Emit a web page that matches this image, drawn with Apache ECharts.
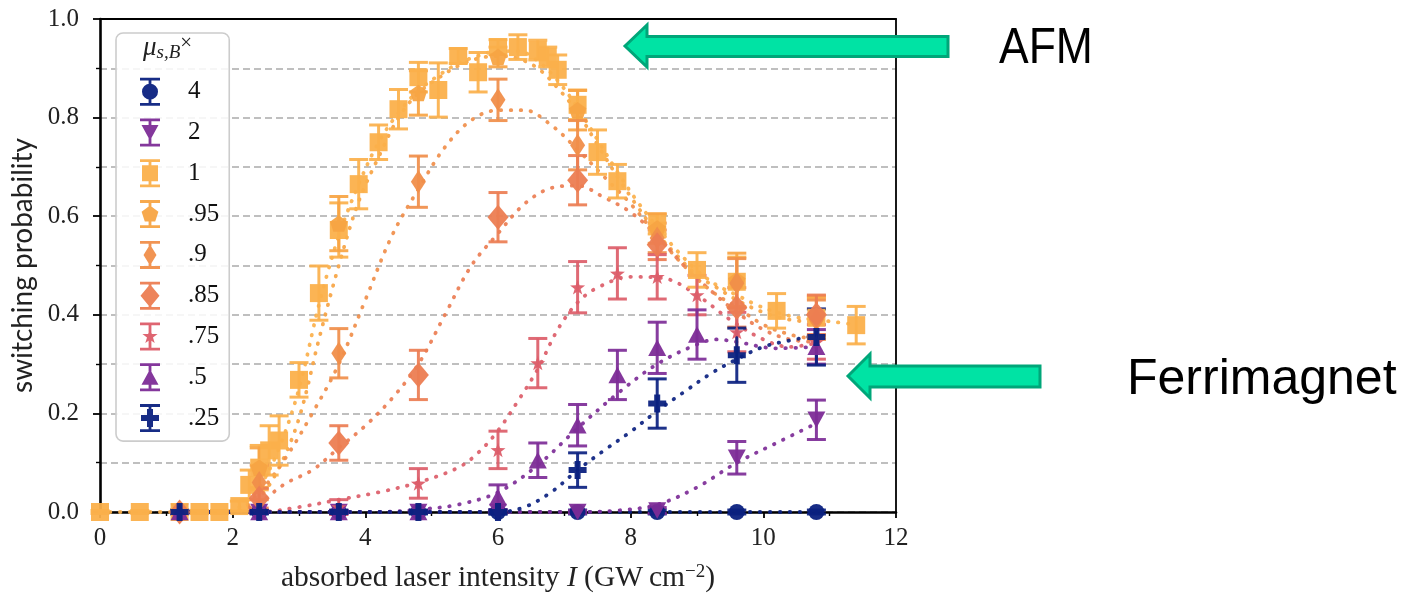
<!DOCTYPE html>
<html><head><meta charset="utf-8">
<script src="https://cdn.jsdelivr.net/npm/echarts@6/dist/echarts.min.js"></script>
<style>html,body{margin:0;padding:0;background:#fff}#c{width:1407px;height:594px}</style>
</head><body><div id="c"></div>
<script>
// ---------- data ----------
const seriesNames = ['4', '2', '1', '.95', '.9', '.85', '.75', '.5', '.25'];
const xCoarse = [1.2, 2.4, 3.6, 4.8, 6.0, 7.2, 8.4, 9.6, 10.8];

const y4 = [0, 0, 0, 0, 0, 0, 0, 0, 0];
const e4 = [0.004, 0.004, 0.004, 0.004, 0.004, 0.004, 0.004, 0.004, 0.004];

const y2 = [0, 0, 0, 0, 0, 0, 0.003, 0.11, 0.187];
const e2 = [0.003, 0.003, 0.003, 0.003, 0.003, 0.003, 0.006, 0.033, 0.04];

const x1 = [0, 0.6, 1.2, 1.5, 1.8, 2.1, 2.25, 2.4, 2.55, 2.7, 3.0, 3.3, 3.6, 3.9, 4.2, 4.5, 4.8, 5.1, 5.4, 5.7, 6.0, 6.3, 6.6, 6.75, 6.9, 7.2, 7.5, 7.8, 8.4, 9.0, 9.6, 10.2, 10.8, 11.4];
const y1 = [0, 0, 0, 0, 0, 0.012, 0.055, 0.09, 0.125, 0.145, 0.268, 0.444, 0.572, 0.665, 0.75, 0.817, 0.882, 0.856, 0.925, 0.892, 0.943, 0.943, 0.937, 0.923, 0.897, 0.826, 0.73, 0.671, 0.584, 0.491, 0.467, 0.408, 0.394, 0.379];
const e1 = [0.003, 0.003, 0.003, 0.003, 0.003, 0.01, 0.03, 0.045, 0.05, 0.05, 0.035, 0.055, 0.055, 0.05, 0.035, 0.04, 0.03, 0.055, 0.015, 0.04, 0.015, 0.025, 0.02, 0.02, 0.03, 0.03, 0.045, 0.034, 0.02, 0.035, 0.05, 0.035, 0.04, 0.038];

const y95 = [0, 0.09, 0.585, 0.85, 0.923, 0.815, 0.575, 0.47, 0.398];
const e95 = [0.003, 0.04, 0.055, 0.045, 0.02, 0.04, 0.03, 0.055, 0.04];

const y90 = [0, 0.06, 0.322, 0.67, 0.836, 0.744, 0.556, 0.464, 0.39];
const e90 = [0.003, 0.035, 0.05, 0.052, 0.042, 0.05, 0.03, 0.05, 0.04];

const y85 = [0, 0.028, 0.14, 0.278, 0.598, 0.673, 0.542, 0.415, 0.40];
const e85 = [0.003, 0.02, 0.035, 0.05, 0.05, 0.05, 0.03, 0.04, 0.04];

const x75 = [1.2, 2.4, 3.6, 4.8, 6.0, 6.6, 7.2, 7.8, 8.4, 9.0, 9.6, 10.8];
const y75 = [0, 0, 0.01, 0.058, 0.126, 0.302, 0.456, 0.484, 0.477, 0.44, 0.365, 0.345];
const e75 = [0.003, 0.003, 0.015, 0.03, 0.038, 0.05, 0.052, 0.052, 0.045, 0.04, 0.04, 0.035];

const x50 = [1.2, 2.4, 3.6, 4.8, 6.0, 6.6, 7.2, 7.8, 8.4, 9.0, 10.8];
const y50 = [0, 0, 0, 0, 0.03, 0.105, 0.176, 0.278, 0.333, 0.36, 0.335];
const e50 = [0.003, 0.003, 0.003, 0.003, 0.025, 0.035, 0.042, 0.05, 0.052, 0.05, 0.035];

const y25 = [0, 0, 0, 0, 0, 0.085, 0.22, 0.318, 0.355];
const e25 = [0.003, 0.003, 0.003, 0.003, 0.004, 0.035, 0.05, 0.055, 0.057];

// dotted fit curves
const fit4 = [[1.2, 0], [10.8, 0]];
const fit2 = [[1.2, 0], [7.2, 0], [7.8, 0.003], [8.4, 0.015], [9.0, 0.05], [9.6, 0.1], [10.2, 0.14], [10.8, 0.18]];
const fit1 = [[0, 0], [1.8, 0], [2.1, 0.01], [2.4, 0.05], [2.7, 0.13], [3.0, 0.25], [3.3, 0.42], [3.6, 0.56], [3.9, 0.665], [4.2, 0.75], [4.5, 0.81], [4.8, 0.855], [5.1, 0.885], [5.4, 0.91], [5.7, 0.925], [6.0, 0.935], [6.3, 0.935], [6.6, 0.915], [6.9, 0.875], [7.2, 0.82], [7.5, 0.755], [7.8, 0.69], [8.1, 0.63], [8.4, 0.578], [8.7, 0.53], [9.0, 0.49], [9.3, 0.46], [9.6, 0.44], [9.9, 0.42], [10.2, 0.405], [10.5, 0.395], [10.8, 0.39], [11.1, 0.385], [11.4, 0.38]];
const fit95 = [[1.2, 0], [2.0, 0], [2.4, 0.03], [2.7, 0.09], [3.0, 0.19], [3.3, 0.35], [3.6, 0.5], [3.9, 0.63], [4.2, 0.72], [4.5, 0.8], [4.8, 0.85], [5.1, 0.88], [5.4, 0.905], [5.7, 0.92], [6.0, 0.925], [6.3, 0.92], [6.6, 0.9], [6.9, 0.86], [7.2, 0.81], [7.5, 0.745], [7.8, 0.68], [8.1, 0.62], [8.4, 0.565], [8.7, 0.52], [9.0, 0.48], [9.3, 0.455], [9.6, 0.43], [10.0, 0.405], [10.4, 0.39], [10.8, 0.385]];
const fit90 = [[1.2, 0], [2.0, 0], [2.4, 0.04], [2.8, 0.11], [3.2, 0.2], [3.6, 0.3], [4.0, 0.43], [4.4, 0.56], [4.8, 0.655], [5.2, 0.74], [5.6, 0.795], [6.0, 0.815], [6.4, 0.815], [6.8, 0.785], [7.2, 0.735], [7.6, 0.68], [8.0, 0.625], [8.4, 0.56], [8.8, 0.5], [9.2, 0.45], [9.6, 0.415], [10.0, 0.38], [10.4, 0.36], [10.8, 0.35]];
const fit85 = [[1.2, 0], [2.0, 0], [2.4, 0.02], [2.8, 0.058], [3.2, 0.085], [3.6, 0.13], [4.0, 0.175], [4.4, 0.23], [4.8, 0.3], [5.2, 0.4], [5.6, 0.5], [6.0, 0.565], [6.4, 0.625], [6.8, 0.657], [7.2, 0.662], [7.6, 0.638], [8.0, 0.608], [8.4, 0.56], [8.8, 0.5], [9.2, 0.45], [9.6, 0.405], [10.0, 0.37], [10.4, 0.35], [10.8, 0.345]];
const fit75 = [[1.2, 0], [2.4, 0], [3.0, 0.01], [3.6, 0.025], [4.2, 0.04], [4.8, 0.06], [5.4, 0.09], [5.7, 0.12], [6.0, 0.165], [6.3, 0.225], [6.6, 0.29], [6.9, 0.37], [7.2, 0.425], [7.5, 0.455], [8.0, 0.477], [8.5, 0.474], [9.0, 0.44], [9.5, 0.39], [10.0, 0.35], [10.4, 0.335], [10.8, 0.343]];
const fit50 = [[1.2, 0], [4.2, 0], [4.8, 0.005], [5.4, 0.015], [6.0, 0.04], [6.6, 0.095], [7.2, 0.17], [7.8, 0.24], [8.4, 0.3], [9.0, 0.34], [9.3, 0.35], [9.6, 0.345], [10.2, 0.332], [10.8, 0.335]];
const fit25 = [[1.2, 0], [6.0, 0], [6.4, 0.01], [6.8, 0.04], [7.2, 0.085], [7.6, 0.125], [8.0, 0.163], [8.4, 0.205], [8.8, 0.243], [9.2, 0.28], [9.6, 0.31], [10.0, 0.335], [10.4, 0.348], [10.8, 0.358]];

// ---------- styling ----------
const NAVY = '#0b2180', PURPLE = '#7d2c97';
const colors = [NAVY, PURPLE, '#fbb04b', '#f7a443', '#f08e4a', '#ec7d52', '#dc5d69', PURPLE, NAVY];

const M = {
  circle: 'M2 14A8 8 0 1 1 18 14A8 8 0 1 1 2 14Z',
  tridown: 'M1.5 6.5L18.5 6.5L10 22Z',
  square: 'M2 6H18V22H2Z',
  pentagon: 'M10 5.5L18.4 11.6L15.2 21.5L4.8 21.5L1.6 11.6Z',
  thindiamond: 'M10 3.5L16.5 14L10 24.5L3.5 14Z',
  diamond: 'M10 2.5L19.5 14L10 25.5L0.5 14Z',
  star: 'M10 6L11.9 11.4L17.6 11.5L13 15L14.7 20.5L10 17.2L5.3 20.5L7 15L2.4 11.5L8.1 11.4Z',
  triup: 'M10 6L18.5 21.5L1.5 21.5Z',
  plus: 'M7 5H13V11H19V17H13V23H7V17H1V11H7Z'
};
const CAPS = 'M0 0H20V2.8H0Z M0 25.2H20V28H0Z M8.6 0H11.4V28H8.6Z ';
const markerKeys = ['circle', 'tridown', 'square', 'pentagon', 'thindiamond', 'diamond', 'star', 'triup', 'plus'];
const markerSizes = [[16, 16], [18, 16.5], [18, 18], [17.5, 16.5], [15, 23], [21, 25], [15, 14.5], [18, 16.5], [18, 18]];

const groups = [
  {x: xCoarse, y: y4, e: e4, fit: fit4},
  {x: xCoarse, y: y2, e: e2, fit: fit2},
  {x: x1, y: y1, e: e1, fit: fit1},
  {x: xCoarse, y: y95, e: e95, fit: fit95},
  {x: xCoarse, y: y90, e: e90, fit: fit90},
  {x: xCoarse, y: y85, e: e85, fit: fit85},
  {x: x75, y: y75, e: e75, fit: fit75},
  {x: x50, y: y50, e: e50, fit: fit50},
  {x: xCoarse, y: y25, e: e25, fit: fit25}
];

const series = [];
groups.forEach((g, i) => {
  const c = colors[i];
  series.push({
    type: 'line', data: g.fit, smooth: 0.35, symbol: 'none', silent: true, z: 2,
    lineStyle: {color: c, width: 3.8, type: [0.5, 9.5], cap: 'round', opacity: 0.92}
  });
  series.push({
    type: 'custom', silent: true, z: 3, clip: false,
    data: g.x.map((x, k) => [x, g.y[k], g.e[k]]),
    renderItem: (params, api) => {
      const x = api.value(0), y = api.value(1), e = api.value(2);
      const t = api.coord([x, y + e]), b = api.coord([x, y - e]);
      const hw = 9.5;
      const st = {stroke: c, lineWidth: 3, opacity: 0.92};
      return {type: 'group', children: [
        {type: 'line', shape: {x1: t[0], y1: t[1], x2: b[0], y2: b[1]}, style: st},
        {type: 'line', shape: {x1: t[0] - hw, y1: t[1], x2: t[0] + hw, y2: t[1]}, style: st},
        {type: 'line', shape: {x1: b[0] - hw, y1: b[1], x2: b[0] + hw, y2: b[1]}, style: st}
      ]};
    }
  });
  series.push({
    type: 'scatter', name: seriesNames[i], z: 4, clip: false, silent: true,
    data: g.x.map((x, k) => [x, g.y[k]]),
    symbol: 'path://' + M[markerKeys[i]], symbolSize: markerSizes[i], symbolKeepAspect: false,
    itemStyle: {color: c, opacity: 0.95}
  });
});

const serif = '"Liberation Serif", "DejaVu Serif", serif';
const gridDash = {color: '#aaaaaa', width: 1.5, type: [7, 4]};
const frameAxis = {show: true, axisLine: {show: true, onZero: false, lineStyle: {color: '#000', width: 1.8}},
  axisTick: {show: false}, axisLabel: {show: false}, splitLine: {show: false}};

const chart = echarts.init(document.getElementById('c'), null, {renderer: 'canvas'});
chart.setOption({
  animation: false,
  backgroundColor: '#fff',
  grid: {left: 100, right: 511, top: 19, bottom: 82, show: false, containLabel: false, outerBoundsMode: 'none'},
  xAxis: [{
    type: 'value', min: 0, max: 12, interval: 2, position: 'bottom',
    axisLine: {onZero: false, lineStyle: {color: '#000', width: 2.6}},
    axisTick: {show: true, length: 6, lineStyle: {color: '#000', width: 1.8}},
    minorTick: {show: true, splitNumber: 2, length: 4, lineStyle: {color: '#000', width: 1.4}},
    splitLine: {show: false},
    axisLabel: {fontFamily: serif, fontSize: 25, color: '#222', margin: 14},
    name: '{a|absorbed laser intensity }{i|I}{a| (GW\u2009cm}{s|\u22122}{a|)}',
    nameLocation: 'middle', nameGap: 51,
    nameTextStyle: {
      rich: {
        a: {fontFamily: serif, fontSize: 29.5, color: '#222'},
        i: {fontFamily: serif, fontSize: 29.5, fontStyle: 'italic', color: '#222'},
        s: {fontFamily: serif, fontSize: 19, color: '#222', verticalAlign: 'top', padding: [0, 0, 12, 0]}
      }
    }
  }, Object.assign({type: 'value', min: 0, max: 12, interval: 2, position: 'top'}, frameAxis)],
  yAxis: [{
    type: 'value', min: 0, max: 1, interval: 0.2, position: 'left',
    axisLine: {show: true, lineStyle: {color: '#000', width: 2.6}},
    axisTick: {show: true, length: 7, lineStyle: {color: '#000', width: 1.8}},
    minorTick: {show: true, splitNumber: 2, length: 4, lineStyle: {color: '#000', width: 1.4}},
    splitLine: {show: true, lineStyle: gridDash},
    minorSplitLine: {show: true, lineStyle: gridDash},
    axisLabel: {fontFamily: serif, fontSize: 25, color: '#222', margin: 21, formatter: v => v.toFixed(1)},
    name: 'switching probability', nameLocation: 'middle', nameGap: 52,
    nameTextStyle: {fontFamily: 'Lato, "Open Sans", sans-serif', fontSize: 28, color: '#222'}
  }, Object.assign({type: 'value', min: 0, max: 1, interval: 0.2, position: 'right'}, frameAxis)],
  legend: {
    orient: 'vertical', left: 116, top: 33,
    padding: [44.7, 10, 9, 24],
    itemWidth: 20, itemHeight: 28, itemGap: 12.8,
    backgroundColor: 'rgba(255,255,255,0.85)', borderColor: '#cccccc', borderWidth: 1.6, borderRadius: 7,
    selectedMode: false,
    textStyle: {fontFamily: serif, fontSize: 25, color: '#111', padding: [0, 0, 0, 23]},
    data: seriesNames.map((n, i) => ({name: n, icon: 'path://' + CAPS + M[markerKeys[i]]}))
  },
  graphic: [
    {type: 'text', z: 100, left: 143, top: 33, style: {
      rich: {
        m: {fontFamily: serif, fontSize: 27, fontStyle: 'italic', fill: '#222'},
        s: {fontFamily: serif, fontSize: 19, fontStyle: 'italic', fill: '#222', padding: [10, 0, 0, 0]},
        x: {fontFamily: serif, fontSize: 21, fill: '#222', padding: [0, 0, 8, 0]}
      },
      text: '{m|\u03bc}{s|s,B}{x|\u00d7}'
    }},
    {type: 'polygon', z: 50, shape: {points: [[625, 46], [647, 25], [647, 36.5], [948, 36.5], [948, 56.5], [647, 56.5], [647, 67]]},
      style: {fill: '#00e3a4', stroke: '#00a679', lineWidth: 3, lineJoin: 'miter'}},
    {type: 'polygon', z: 50, shape: {points: [[848, 376], [870, 354], [870, 366], [1040, 366], [1040, 387], [870, 387], [870, 398]]},
      style: {fill: '#00e3a4', stroke: '#00a679', lineWidth: 3, lineJoin: 'miter'}},
    {type: 'text', z: 50, x: 999, y: 24, scaleX: 0.89, style: {text: 'AFM', fontFamily: '"Liberation Sans", Arial, sans-serif', fontSize: 50, fill: '#000'}},
    {type: 'text', z: 50, left: 1127, top: 355, style: {text: 'Ferrimagnet', fontFamily: '"Liberation Sans", Arial, sans-serif', fontSize: 50, fill: '#000'}}
  ],
  series: series
});
</script></body></html>
